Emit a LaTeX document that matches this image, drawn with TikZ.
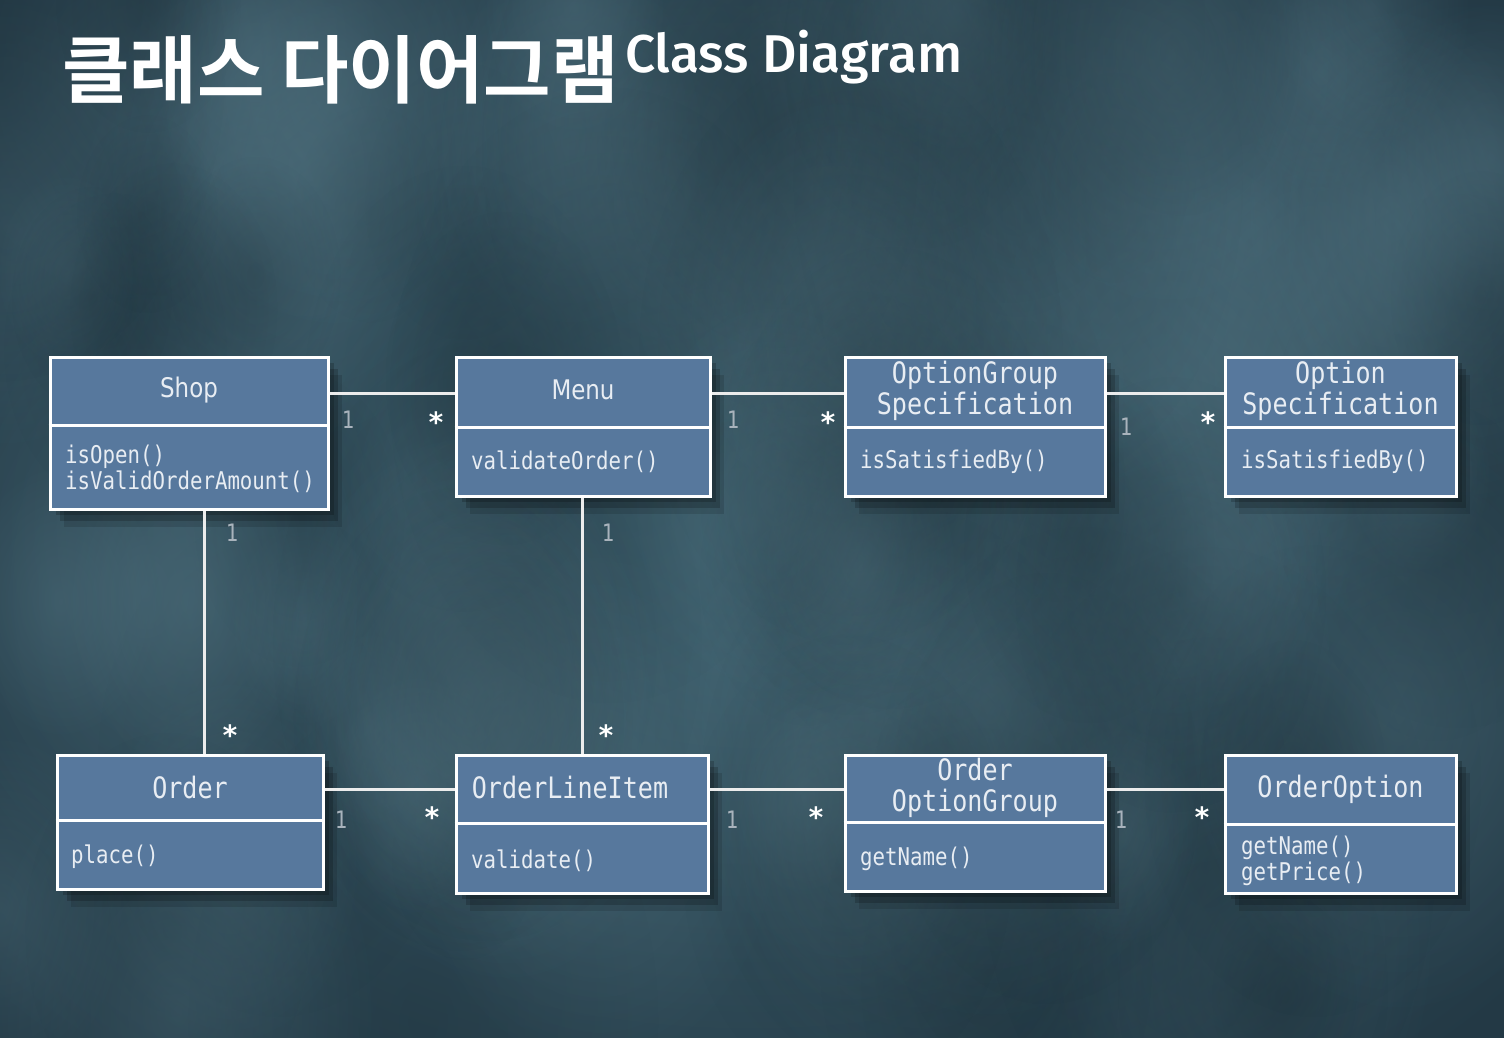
\documentclass[tikz,border=0pt]{standalone}
\usepackage{fontspec}
\usetikzlibrary{shadows,fadings}
\newfontfamily\kofont{Noto Sans CJK KR Bold}
\newfontfamily\titlefont{Fira Sans Medium}
\newfontfamily\umono[FakeStretch=0.85]{DejaVu Sans Mono}
\newfontfamily\usans[FakeStretch=0.85]{DejaVu Sans}
\definecolor{bgmid}{HTML}{426573}
\definecolor{bgout}{HTML}{233945}
\definecolor{bglight}{HTML}{5C808E}
\definecolor{bgdark}{HTML}{1A2C35}
\definecolor{boxfill}{HTML}{57789D}
\definecolor{boxtext}{HTML}{E8EDF3}
\definecolor{onecol}{HTML}{A9B3BC}
\definecolor{linecol}{HTML}{ECECEC}
\tikzfading[name=softdot, inner color=transparent!0, outer color=transparent!100]
\tikzset{
  umlbox/.style={draw=white, line width=3pt, fill=boxfill, inner sep=0pt,
    drop shadow={shadow xshift=6pt, shadow yshift=-6pt, opacity=0.18, fill=black},
    drop shadow={shadow xshift=10pt, shadow yshift=-12pt, opacity=0.18, fill=black},
    drop shadow={shadow xshift=14pt, shadow yshift=-18pt, opacity=0.12, fill=black}},
  divider/.style={draw=white, line width=3pt},
  conn/.style={draw=linecol, line width=3pt},
  ctitle/.style={text=boxtext, font=\umono\fontsize{29.5}{31}\selectfont, align=center, inner sep=0pt},
  stitle/.style={text=boxtext, font=\usans\fontsize{27}{31}\selectfont, align=center, inner sep=0pt},
  meth/.style={text=boxtext, font=\umono\fontsize{24.4}{26}\selectfont, align=left, anchor=west, inner sep=0pt},
  mone/.style={text=onecol, font=\umono\fontsize{24}{26}\selectfont, inner sep=0pt},
  mstar/.style={text=white, font=\fontspec{DejaVu Sans Mono Bold}\fontsize{28}{30}\selectfont, inner sep=0pt}
}
\begin{document}
\begin{tikzpicture}[x=1pt,y=-1pt]
\useasboundingbox (0,0) rectangle (1504,1038);
% background
\fill[bgout] (0,0) rectangle (1504,1038);
\shade[inner color=bgmid, outer color=bgout] (-250,-200) rectangle (1750,1250);
\pgfmathsetseed{11}
\foreach \i in {1,...,110} {
  \pgfmathsetmacro{\bx}{rnd*1504}
  \pgfmathsetmacro{\by}{rnd*1038}
  \pgfmathsetmacro{\br}{70+rnd*170}
  \pgfmathsetmacro{\bc}{rnd}
  \ifdim\bc pt<0.5pt
    \fill[bglight, opacity=0.28, path fading=softdot] (\bx,\by) ellipse ({\br} and {\br*1.4});
  \else
    \fill[bgdark, opacity=0.28, path fading=softdot] (\bx,\by) ellipse ({\br} and {\br*1.4});
  \fi
}
% title
\node[anchor=north west, inner sep=0pt, text=white] (ktitle) at (62,35)
  {\resizebox{556pt}{62pt}{\kofont 클래스 다이어그램}};
\node[anchor=north west, inner sep=0pt, text=white] (etitle) at (625,30)
  {\resizebox{337pt}{!}{\titlefont\fontsize{48}{50}\selectfont Class Diagram}};
% boxes
\node[umlbox, minimum width=278pt, minimum height=152pt] (shop) at (189,433) {};
\node[umlbox, minimum width=254pt, minimum height=139pt] (menu) at (583,426.5) {};
\node[umlbox, minimum width=260pt, minimum height=139pt] (ogs) at (975,426.5) {};
\node[umlbox, minimum width=231pt, minimum height=139pt] (os) at (1340.5,426.5) {};
\node[umlbox, minimum width=266pt, minimum height=134pt] (order) at (190,822) {};
\node[umlbox, minimum width=252pt, minimum height=138pt] (oli) at (582,824) {};
\node[umlbox, minimum width=260pt, minimum height=136pt] (oog) at (975,823) {};
\node[umlbox, minimum width=231pt, minimum height=138pt] (oo) at (1340.5,824) {};
% dividers
\coordinate (d1) at (0,425);
\coordinate (d2) at (0,427);
\coordinate (d3) at (0,820);
\coordinate (d4) at (0,823);
\coordinate (d5) at (0,822);
\coordinate (d6) at (0,824);
\draw[divider] (shop.west |- d1) -- (shop.east |- d1);
\draw[divider] (menu.west |- d2) -- (menu.east |- d2);
\draw[divider] (ogs.west |- d2) -- (ogs.east |- d2);
\draw[divider] (os.west |- d2) -- (os.east |- d2);
\draw[divider] (order.west |- d3) -- (order.east |- d3);
\draw[divider] (oli.west |- d4) -- (oli.east |- d4);
\draw[divider] (oog.west |- d5) -- (oog.east |- d5);
\draw[divider] (oo.west |- d6) -- (oo.east |- d6);
% class names
\node[stitle] (shopname) at (189,390) {Shop};
\node[stitle] (menuname) at (583,390) {Menu};
\node[ctitle] (ogsname) at (975,391) {OptionGroup\\Specification};
\node[ctitle] (osname) at (1340.5,391) {Option\\Specification};
\node[ctitle] (ordername) at (190,787) {Order};
\node[ctitle] (oliname) at (570,787) {OrderLineItem};
\node[ctitle] (oogname) at (975,788) {Order\\OptionGroup};
\node[ctitle] (ooname) at (1340.5,789) {OrderOption};
% methods
\node[meth] (shopm) at (65,469) {isOpen()\\isValidOrderAmount()};
\node[meth] (menum) at (471,462) {validateOrder()};
\node[meth] (ogsm) at (860,462) {isSatisfiedBy()};
\node[meth] (osm) at (1241,462) {isSatisfiedBy()};
\node[meth] (orderm) at (71,857) {place()};
\node[meth] (olim) at (471,861) {validate()};
\node[meth] (oogm) at (860,859) {getName()};
\node[meth] (oom) at (1241,861) {getName()\\getPrice()};
% connectors
\coordinate (r1) at (0,393);
\coordinate (r2) at (0,789);
\coordinate (v1) at (204,0);
\coordinate (v2) at (582,0);
\draw[conn] (shop.east |- r1) -- (menu.west |- r1);
\draw[conn] (menu.east |- r1) -- (ogs.west |- r1);
\draw[conn] (ogs.east |- r1) -- (os.west |- r1);
\draw[conn] (order.east |- r2) -- (oli.west |- r2);
\draw[conn] (oli.east |- r2) -- (oog.west |- r2);
\draw[conn] (oog.east |- r2) -- (oo.west |- r2);
\draw[conn] (shop.south -| v1) -- (order.north -| v1);
\draw[conn] (menu.south -| v2) -- (oli.north -| v2);
% multiplicities
\node[mone] (m1) at (348,420) {1};
\node[mstar] (s1) at (436,422) {*};
\node[mone] (m2) at (733,420) {1};
\node[mstar] (s2) at (828,422) {*};
\node[mone] (m3) at (1126,427) {1};
\node[mstar] (s3) at (1208,422) {*};
\node[mone] (m4) at (232,533) {1};
\node[mstar] (s4) at (230,735) {*};
\node[mone] (m5) at (608,533) {1};
\node[mstar] (s5) at (606,735) {*};
\node[mone] (m6) at (341,820) {1};
\node[mstar] (s6) at (432,817) {*};
\node[mone] (m7) at (732,820) {1};
\node[mstar] (s7) at (816,817) {*};
\node[mone] (m8) at (1121,820) {1};
\node[mstar] (s8) at (1202,817) {*};
\end{tikzpicture}
\end{document}
